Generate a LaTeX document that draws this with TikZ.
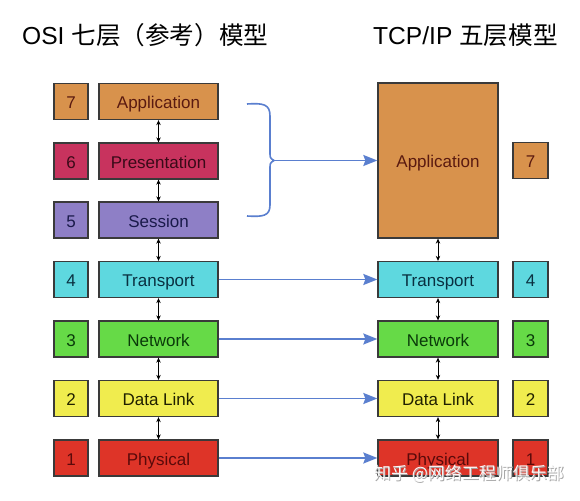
\documentclass[tikz,border=0pt]{standalone}
\usepackage{fontspec}
\setmainfont{Liberation Sans}
\newfontfamily\cjk{Noto Sans CJK SC}
\usetikzlibrary{arrows.meta}
\definecolor{appC}{HTML}{D8924C}
\definecolor{presC}{HTML}{C8335E}
\definecolor{sessC}{HTML}{8E7FC6}
\definecolor{transC}{HTML}{5ED8DF}
\definecolor{netC}{HTML}{66DA47}
\definecolor{dlC}{HTML}{F0EC4E}
\definecolor{physC}{HTML}{DE3428}
\definecolor{blueC}{HTML}{5A7FCF}
\definecolor{boxline}{HTML}{3A3A3A}
\definecolor{appT}{HTML}{5A1A10}
\definecolor{presT}{HTML}{3A0A18}
\definecolor{sessT}{HTML}{1A1A4A}
\definecolor{transT}{HTML}{0A3040}
\definecolor{netT}{HTML}{0A3A0A}
\definecolor{dlT}{HTML}{202000}
\definecolor{physT}{HTML}{5A0A0A}
\begin{document}
\begin{tikzpicture}[x=1pt,y=-1pt,
  layerbox/.style={draw=boxline, line width=1.3pt, minimum height=36pt, inner sep=0pt,
    text height=14pt, text depth=0pt, font=\fontsize{17}{17}\selectfont},
  osibox/.style={layerbox, minimum width=119pt},
  tcpbox/.style={layerbox, minimum width=120pt},
  numbox/.style={layerbox, minimum width=34pt},
  titletext/.style={anchor=base west, inner sep=0pt, font=\fontsize{24.6}{25}\selectfont},
  dblarrow/.style={line width=0.8pt, {Stealth[length=5pt,width=4.5pt]}-{Stealth[length=5pt,width=4.5pt]}},
  bluearrow/.style={draw=blueC, line width=1.7pt, -{Stealth[length=14pt,width=11pt,inset=2pt]}},
  brace/.style={draw=blueC, line width=1.6pt},
  wmark/.style={inner sep=0pt, font=\cjk\fontsize{17}{17}\selectfont}
]
\useasboundingbox (0,0) rectangle (580,500);
\fill[white] (0,0) rectangle (580,500);

% titles
\node[titletext] (t1) at (22,45) {OSI {\cjk 七层（参考）模型}};
\node[titletext] (t2) at (373,45) {TCP/IP {\cjk 五层模型}};

% OSI column
\node[numbox, fill=appC, text=appT] (n7) at (71,101.5) {7};
\node[numbox, fill=presC, text=presT] (n6) at (71,161) {6};
\node[numbox, fill=sessC, text=sessT] (n5) at (71,220) {5};
\node[numbox, fill=transC, text=transT] (n4) at (71,279.5) {4};
\node[numbox, fill=netC, text=netT] (n3) at (71,339) {3};
\node[numbox, fill=dlC, text=dlT] (n2) at (71,398.5) {2};
\node[numbox, fill=physC, text=physT] (n1) at (71,458) {1};

\node[osibox, fill=appC, text=appT] (o7) at (158.5,101.5) {Application};
\node[osibox, fill=presC, text=presT] (o6) at (158.5,161) {Presentation};
\node[osibox, fill=sessC, text=sessT] (o5) at (158.5,220) {Session};
\node[osibox, fill=transC, text=transT] (o4) at (158.5,279.5) {Transport};
\node[osibox, fill=netC, text=netT] (o3) at (158.5,339) {Network};
\node[osibox, fill=dlC, text=dlT] (o2) at (158.5,398.5) {Data Link};
\node[osibox, fill=physC, text=physT] (o1) at (158.5,458) {Physical};

% TCP/IP column
\node[tcpbox, fill=appC, text=appT, minimum height=155pt] (tapp) at (438,160.5) {Application};
\node[tcpbox, fill=transC, text=transT] (t4) at (438,279.5) {Transport};
\node[tcpbox, fill=netC, text=netT] (t3) at (438,339) {Network};
\node[tcpbox, fill=dlC, text=dlT] (t2b) at (438,398.5) {Data Link};
\node[tcpbox, fill=physC, text=physT] (t1b) at (438,458) {Physical};

\node[numbox, fill=appC, text=appT, minimum width=35pt] (r7) at (530.5,160.5) {7};
\node[numbox, fill=transC, text=transT, minimum width=35pt] (r4) at (530.5,279.5) {4};
\node[numbox, fill=netC, text=netT, minimum width=35pt] (r3) at (530.5,339) {3};
\node[numbox, fill=dlC, text=dlT, minimum width=35pt] (r2) at (530.5,398.5) {2};
\node[numbox, fill=physC, text=physT, minimum width=35pt] (r1) at (530.5,458) {1};

% vertical double arrows
\draw[dblarrow] (o7) -- (o6);
\draw[dblarrow] (o6) -- (o5);
\draw[dblarrow] (o5) -- (o4);
\draw[dblarrow] (o4) -- (o3);
\draw[dblarrow] (o3) -- (o2);
\draw[dblarrow] (o2) -- (o1);
\draw[dblarrow] (tapp) -- (t4);
\draw[dblarrow] (t4) -- (t3);
\draw[dblarrow] (t3) -- (t2b);
\draw[dblarrow] (t2b) -- (t1b);

% brace
\coordinate (tip) at (274,160.5);
\draw[brace] (247,104) .. controls (263,103) and (270,104) .. (270,116) -- (270,152)
  .. controls (270,158) .. (tip) .. controls (270,163) .. (270,169) -- (270,205)
  .. controls (270,216) and (263,217) .. (247,216);
\draw[bluearrow] (tip) -- (tapp);

% horizontal arrows
\draw[bluearrow] (o4) -- (t4);
\draw[bluearrow] (o3) -- (t3);
\draw[bluearrow] (o2) -- (t2b);
\draw[bluearrow] (o1) -- (t1b);

% watermark
\node[wmark, text=black!35] (wms) at (469.8,474.8) {知乎 @网络工程师俱乐部};
\node[wmark, text=white, opacity=0.95] (wm) at (469,474) {知乎 @网络工程师俱乐部};
\end{tikzpicture}
\end{document}
